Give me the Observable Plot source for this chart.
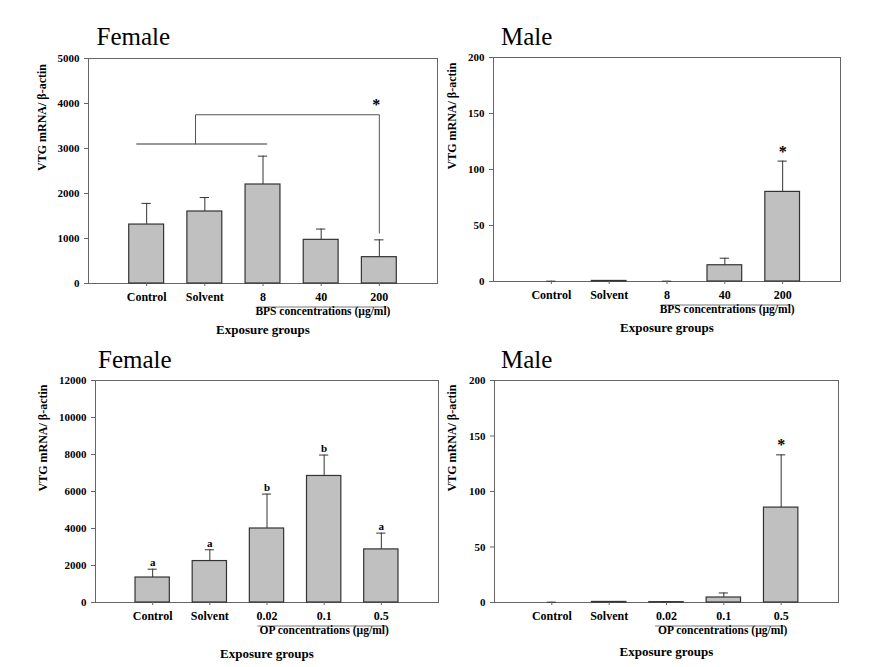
<!DOCTYPE html>
<html><head><meta charset="utf-8">
<script src="https://cdn.jsdelivr.net/npm/d3@7"></script>
<script src="https://cdn.jsdelivr.net/npm/@observablehq/plot@0.6"></script>
<style>
body{margin:0;background:#fff;}
#wrap{position:relative;width:880px;height:667px;overflow:hidden;background:#fff;font-family:"Liberation Serif","Times New Roman",serif;}
.panel{position:absolute;}
.title{position:absolute;font-size:25px;line-height:25px;color:#000;z-index:2;white-space:nowrap;font-family:"Liberation Serif","Times New Roman",serif;}
</style></head><body>
<div id="wrap"></div>
<script>
// ---- data ----
const bpsGroups = ["Control", "Solvent", "8", "40", "200"];
const opGroups = ["Control", "Solvent", "0.02", "0.1", "0.5"];

const bpsFemaleMean = [1310, 1600, 2200, 970, 585];
const bpsFemaleErr = [470, 310, 630, 240, 385];

const bpsMaleMean = [0, 0.5, 0, 14.5, 80];
const bpsMaleErr = [0.3, 0.3, 0.3, 6.3, 27.5];
const bpsMaleSig = ["", "", "", "", "*"];

const opFemaleMean = [1350, 2240, 4000, 6840, 2870];
const opFemaleErr = [450, 610, 1860, 1130, 880];
const opFemaleLetters = ["a", "a", "b", "b", "a"];

const opMaleMean = [0, 0.5, 0.3, 4.5, 85.5];
const opMaleErr = [0.3, 0.3, 0.2, 4.1, 47.5];
const opMaleSig = ["", "", "", "", "*"];

const femaleBpsTicks = [0, 1000, 2000, 3000, 4000, 5000];
const femaleOpTicks = [0, 2000, 4000, 6000, 8000, 10000, 12000];
const maleTicks = [0, 50, 100, 150, 200];

// significance bracket in the female BPS panel (data units)
const bracketBarX = [0.83, 3.08];
const bracketBarY = 3100;
const bracketPathX = [1.84, 1.84, 5, 5];
const bracketPathY = [3100, 3750, 3750, 1120];
const bracketSig = "*";

const yTitle = "VTG mRNA/ \u03B2-actin";
const xTitle = "Exposure groups";
const bpsSub = "BPS concentrations (\u00B5g/ml)";
const opSub = "OP concentrations (\u00B5g/ml)";

// ---- drawing ----
function panel(o) {
  const rows = o.groups.map((g, k) => ({
    i: k + 1, g, v: o.mean[k], top: o.mean[k] + o.err[k],
    lab: o.labels ? o.labels[k] : ""
  }));
  const marks = [
    Plot.frame({stroke: "#666"}),
    Plot.rectY(rows.filter(d => d.v > 0), {x1: d => d.i - 0.3, x2: d => d.i + 0.3, y1: 0, y2: "v",
      fill: "#c0c0c0", stroke: "#333", strokeWidth: 1.2}),
    Plot.ruleX(rows, {x: "i", y1: "v", y2: "top", stroke: "#333"}),
    Plot.ruleY(rows, {y: "top", x1: d => d.i - 0.08, x2: d => d.i + 0.08, stroke: "#333"}),
    Plot.axisY({ticks: o.yTicks, tickFormat: d => String(d), tickSize: 4, tickPadding: 5,
      fontSize: 11, label: null, stroke: "#666"}),
    Plot.axisX({ticks: [1, 2, 3, 4, 5], tickFormat: i => o.groups[i - 1], tickSize: 3, tickPadding: 6,
      fontSize: 12, label: null, stroke: "#666"}),
    Plot.text([yTitle], {frameAnchor: "left", rotate: -90, dx: o.yTitleDx, fontSize: 12}),
    Plot.ruleY([0], {x1: o.subLine[0], x2: o.subLine[1], dy: 23.5, stroke: "#777"}),
    Plot.text([o.sub], {x: o.subX, frameAnchor: "bottom", dy: 31, fontSize: 11.5}),
    Plot.text([xTitle], {frameAnchor: "bottom", dy: o.xTitleDy, fontSize: 13})
  ];
  if (o.labelKind === "letter") {
    marks.push(Plot.text(rows, {x: "i", y: "top", text: "lab", dy: -6.5, fontSize: 11}));
  } else if (o.labelKind === "star") {
    marks.push(Plot.text(rows.filter(d => d.lab), {x: "i", y: "top", text: "lab", dy: -9.6, fontSize: 16}));
  }
  if (o.extra) marks.push(...o.extra);
  return Plot.plot({
    width: o.width, height: o.height,
    marginLeft: o.ml, marginRight: o.mr, marginTop: o.mt, marginBottom: o.mb,
    style: {fontFamily: "'Liberation Serif','Times New Roman',serif", fontWeight: "bold", background: "transparent", overflow: "visible"},
    x: {domain: [0, 6]},
    y: {domain: [0, o.yMax]},
    marks
  });
}

const bracketLine = bracketPathX.map((x, k) => ({x, y: bracketPathY[k]}));
const bracketMarks = [
  Plot.ruleY([bracketBarY], {x1: bracketBarX[0], x2: bracketBarX[1], stroke: "#777", strokeWidth: 1.6}),
  Plot.line(bracketLine, {x: "x", y: "y", stroke: "#555", strokeWidth: 1}),
  Plot.text([bracketSig], {x: bracketPathX[2], y: bracketPathY[2], dy: -9.6, dx: -3, fontSize: 16})
];

const panels = [
  {left: 0, top: 48, opts: {groups: bpsGroups, mean: bpsFemaleMean, err: bpsFemaleErr, yMax: 5000, yTicks: femaleBpsTicks,
    width: 440, height: 295, ml: 88, mr: 3, mt: 10, mb: 60, yTitleDx: -46,
    subLine: [2.9, 5.12], subX: 4.03, sub: bpsSub, xTitleDy: 50, extra: bracketMarks}},
  {left: 440, top: 47, opts: {groups: bpsGroups, mean: bpsMaleMean, err: bpsMaleErr, labels: bpsMaleSig, labelKind: "star",
    yMax: 200, yTicks: maleTicks,
    width: 440, height: 294, ml: 53, mr: 40, mt: 10, mb: 60, yTitleDx: -41.6,
    subLine: [2.91, 5.13], subX: 4.04, sub: bpsSub, xTitleDy: 50}},
  {left: 0, top: 370, opts: {groups: opGroups, mean: opFemaleMean, err: opFemaleErr, labels: opFemaleLetters, labelKind: "letter",
    yMax: 12000, yTicks: femaleOpTicks,
    width: 440, height: 296, ml: 95, mr: 2, mt: 10, mb: 64, yTitleDx: -52.3,
    subLine: [2.84, 5.1], subX: 4.0, sub: opSub, xTitleDy: 55}},
  {left: 440, top: 370, opts: {groups: opGroups, mean: opMaleMean, err: opMaleErr, labels: opMaleSig, labelKind: "star",
    yMax: 200, yTicks: maleTicks,
    width: 440, height: 296, ml: 54, mr: 42, mt: 10, mb: 64, yTitleDx: -42.3,
    subLine: [2.81, 5.07], subX: 3.98, sub: opSub, xTitleDy: 53.5}}
];

const wrap = document.getElementById("wrap");
for (const p of panels) {
  const div = document.createElement("div");
  div.className = "panel";
  div.style.left = p.left + "px";
  div.style.top = p.top + "px";
  div.appendChild(panel(p.opts));
  wrap.appendChild(div);
}

const titles = [
  {text: "Female", left: 96.5, top: 24},
  {text: "Male", left: 501, top: 24},
  {text: "Female", left: 98, top: 347.4},
  {text: "Male", left: 501, top: 347.4}
];
for (const t of titles) {
  const d = document.createElement("div");
  d.className = "title";
  d.textContent = t.text;
  d.style.left = t.left + "px";
  d.style.top = t.top + "px";
  wrap.appendChild(d);
}
</script>
</body></html>
